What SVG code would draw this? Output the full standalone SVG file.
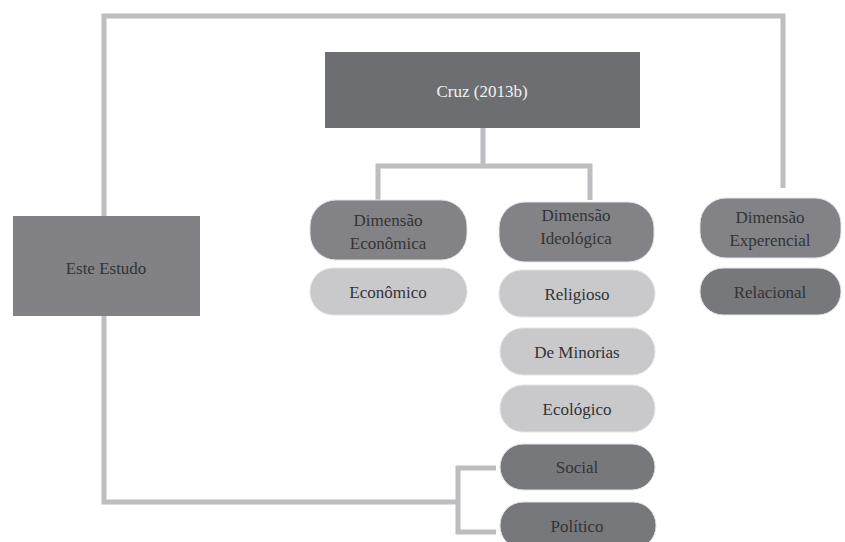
<svg xmlns="http://www.w3.org/2000/svg" width="845" height="542" viewBox="0 0 845 542" font-family="'Liberation Serif', 'Times New Roman', serif">
<style>
.t{font-family:'Liberation Serif','Times New Roman',serif;font-size:17px;fill:#333335;text-anchor:middle}
.ln{fill:none;stroke:#bdbec1;stroke-width:5}
.dim{fill:#838387;stroke:#e4e4e6;stroke-width:1}
.lt{fill:#c9c9cb;stroke:#e4e4e6;stroke-width:1}
.dk{fill:#77787c;stroke:#e4e4e6;stroke-width:1}
.hd{fill:#6d6e71}
.ee{fill:#828286}
</style>
<g id="connectors">
<path class="ln" d="M104,216 V16 H783 V188"/>
<path class="ln" d="M104,316 V502 H458"/>
<path class="ln" d="M496,468 H458 V532 H496"/>
<path class="ln" d="M483,128 V166 M378,200 V166 H590 V200"/>
</g>
<g id="cruz"><rect class="hd" x="325" y="52" width="315" height="76"/><text class="t" x="482" y="97" style="fill:#f2f2f2">Cruz (2013b)</text></g>
<g id="este-estudo"><rect class="ee" x="13" y="216" width="187" height="100"/><text class="t" x="106" y="274">Este Estudo</text></g>
<g id="dim-economica"><rect class="dim" x="310" y="200" width="157" height="60" rx="26"/><text class="t" x="388" y="226">Dimensão</text><text class="t" x="388" y="249">Econômica</text></g>
<g id="economico"><rect class="lt" x="310" y="268" width="157" height="47" rx="23"/><text class="t" x="388" y="298">Econômico</text></g>
<g id="dim-ideologica"><rect class="dim" x="499" y="202" width="155" height="60" rx="26"/><text class="t" x="576" y="221">Dimensão</text><text class="t" x="576" y="244">Ideológica</text></g>
<g id="religioso"><rect class="lt" x="499" y="270" width="156" height="47" rx="23"/><text class="t" x="577" y="300">Religioso</text></g>
<g id="minorias"><rect class="lt" x="500" y="328" width="155" height="47" rx="23"/><text class="t" x="577" y="358">De Minorias</text></g>
<g id="ecologico"><rect class="lt" x="500" y="385" width="155" height="47" rx="23"/><text class="t" x="577" y="415">Ecológico</text></g>
<g id="social"><rect class="dk" x="500" y="444" width="155" height="46" rx="23"/><text class="t" x="577" y="473">Social</text></g>
<g id="politico"><rect class="dk" x="500" y="502" width="156" height="47" rx="23"/><text class="t" x="577" y="532">Político</text></g>
<g id="dim-experencial"><rect class="dim" x="700" y="198" width="141" height="60" rx="26"/><text class="t" x="770" y="223">Dimensão</text><text class="t" x="770" y="246">Experencial</text></g>
<g id="relacional"><rect class="dk" x="700" y="268" width="141" height="47" rx="23"/><text class="t" x="770" y="298">Relacional</text></g>
</svg>
